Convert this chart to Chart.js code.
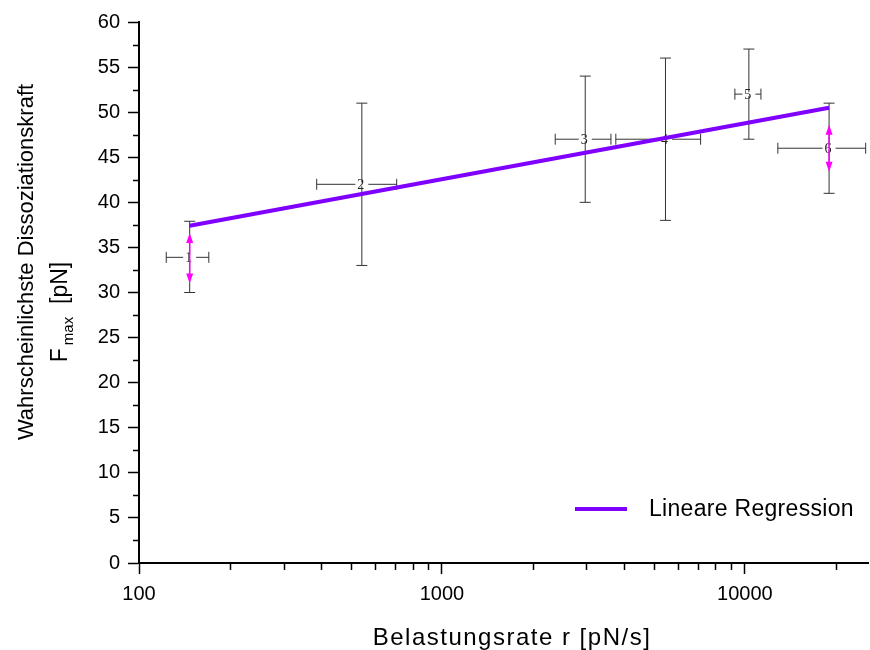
<!DOCTYPE html>
<html>
<head>
<meta charset="utf-8">
<script src="https://cdn.jsdelivr.net/npm/chart.js@4/dist/chart.umd.min.js"></script>
<style>
  html, body { margin: 0; padding: 0; background: #fff; }
  canvas { display: block; }
</style>
</head>
<body>
<canvas id="kraftChart" width="870" height="650"></canvas>
<script>
// Messpunkte (Nummer, Belastungsrate mit Fehlerbereich, Kraft mit Fehlerbereich)
const punktNamen = ['1', '2', '3', '4', '5', '6'];
const rate = [147, 544, 2972, 5470, 10310, 18970];
const rateMin = [123, 386, 2366, 3750, 9270, 12850];
const rateMax = [170, 709, 3614, 7144, 11300, 25050];
const kraft = [33.9, 42.0, 47.0, 47.0, 52.0, 46.0];
const kraftMin = [30.0, 33.0, 40.0, 38.0, 47.0, 41.0];
const kraftMax = [37.9, 51.0, 54.0, 56.0, 57.0, 51.0];

// Lineare Regression F = a + b*log(r), Endpunkte
const fitRate = [147, 18970];
const fitKraft = [37.4, 50.5];

// Doppelpfeile (magenta) bei Punkt 1 und 6
const pfeilRate = [147, 18970];
const pfeilUnten = [31.0, 43.4];
const pfeilOben = [36.6, 48.6];

// Achsenbeschriftung
const xHauptTicks = [100, 1000, 10000];
const xNebenTicks = [200, 300, 400, 500, 600, 700, 800, 900,
                     2000, 3000, 4000, 5000, 6000, 7000, 8000, 9000, 20000];
const yNebenTicks = [2.5, 7.5, 12.5, 17.5, 22.5, 27.5, 32.5, 37.5, 42.5, 47.5, 52.5, 57.5];

const LILA = '#8000ff';
const MAGENTA = '#ff00ff';
const SANS = '"Liberation Sans", Arial, sans-serif';

// Fehlerbalken, Punktnummern, Pfeile
const fehlerPlugin = {
    id: 'fehlerBalken',
    beforeDatasetsDraw(chart) {
        const ctx = chart.ctx;
        const xs = chart.scales.x, ys = chart.scales.y;
        const cap = 5.5;
        ctx.save();
        ctx.strokeStyle = '#333';
        ctx.lineWidth = 1;
        for (let i = 0; i < rate.length; i++) {
            const px = xs.getPixelForValue(rate[i]);
            const py = ys.getPixelForValue(kraft[i]);
            const x0 = xs.getPixelForValue(rateMin[i]);
            const x1 = xs.getPixelForValue(rateMax[i]);
            const y0 = ys.getPixelForValue(kraftMin[i]);
            const y1 = ys.getPixelForValue(kraftMax[i]);
            ctx.beginPath();
            // vertikal
            ctx.moveTo(px, y0); ctx.lineTo(px, y1);
            ctx.moveTo(px - cap, y0); ctx.lineTo(px + cap, y0);
            ctx.moveTo(px - cap, y1); ctx.lineTo(px + cap, y1);
            // horizontal
            ctx.moveTo(x0, py); ctx.lineTo(x1, py);
            ctx.moveTo(x0, py - cap); ctx.lineTo(x0, py + cap);
            ctx.moveTo(x1, py - cap); ctx.lineTo(x1, py + cap);
            ctx.stroke();
        }
        // Nummern mit weissem Hintergrund
        ctx.font = '14px "Liberation Serif", "Times New Roman", serif';
        ctx.textAlign = 'center';
        ctx.textBaseline = 'middle';
        for (let i = 0; i < rate.length; i++) {
            const px = xs.getPixelForValue(rate[i]);
            const py = ys.getPixelForValue(kraft[i]);
            const w = ctx.measureText(punktNamen[i]).width + 6;
            ctx.fillStyle = '#fff';
            ctx.fillRect(px - w / 2, py - 2, w, 4);
            ctx.fillStyle = '#222';
            ctx.fillText(punktNamen[i], px - 1, py + 1);
        }
        // Doppelpfeile
        ctx.strokeStyle = MAGENTA;
        ctx.fillStyle = MAGENTA;
        ctx.lineWidth = 1.5;
        for (let i = 0; i < pfeilRate.length; i++) {
            const px = xs.getPixelForValue(pfeilRate[i]);
            const yo = ys.getPixelForValue(pfeilOben[i]);
            const yu = ys.getPixelForValue(pfeilUnten[i]);
            ctx.beginPath();
            ctx.moveTo(px, yo + 6); ctx.lineTo(px, yu - 6);
            ctx.stroke();
            ctx.beginPath();
            ctx.moveTo(px, yo); ctx.lineTo(px - 3.5, yo + 10); ctx.lineTo(px + 3.5, yo + 10);
            ctx.closePath();
            ctx.moveTo(px, yu); ctx.lineTo(px - 3.5, yu - 10); ctx.lineTo(px + 3.5, yu - 10);
            ctx.closePath();
            ctx.fill();
        }
        ctx.restore();
    },
    afterDraw(chart) {
        const ctx = chart.ctx;
        const xs = chart.scales.x, ys = chart.scales.y;
        const area = chart.chartArea;
        ctx.save();
        // Nebenstriche
        ctx.strokeStyle = '#000';
        ctx.lineWidth = 1.5;
        ctx.beginPath();
        xNebenTicks.forEach(v => {
            const px = Math.round(xs.getPixelForValue(v)) + 0.5;
            ctx.moveTo(px, area.bottom); ctx.lineTo(px, area.bottom + 7);
        });
        yNebenTicks.forEach(v => {
            const py = Math.round(ys.getPixelForValue(v)) + 0.5;
            ctx.moveTo(area.left, py); ctx.lineTo(area.left - 6, py);
        });
        ctx.stroke();

        // Achsentitel
        ctx.fillStyle = '#000';
        ctx.font = '24px ' + SANS;
        ctx.letterSpacing = '1.5px';
        ctx.textAlign = 'center';
        ctx.textBaseline = 'alphabetic';
        ctx.fillText('Belastungsrate r [pN/s]', 512, 645);
        ctx.letterSpacing = '0px';

        ctx.font = '22px ' + SANS;
        ctx.save();
        ctx.translate(33, 262);
        ctx.rotate(-Math.PI / 2);
        ctx.fillText('Wahrscheinlichste Dissoziationskraft', 0, 0);
        ctx.restore();

        ctx.save();
        ctx.translate(67, 312);
        ctx.rotate(-Math.PI / 2);
        ctx.textAlign = 'left';
        const fontGross = '23px ' + SANS, fontKlein = '15px ' + SANS;
        ctx.font = fontGross;
        const wF = ctx.measureText('F').width + 3;
        const wRest = ctx.measureText('  [pN]').width;
        ctx.font = fontKlein;
        const wSub = ctx.measureText('max').width;
        let x = -(wF + wSub + wRest) / 2;
        ctx.font = fontGross;
        ctx.fillText('F', x, 0);
        x += wF;
        ctx.font = fontKlein;
        ctx.fillText('max', x, 6);
        x += wSub;
        ctx.font = fontGross;
        ctx.fillText('  [pN]', x, 0);
        ctx.restore();

        // Legende
        ctx.strokeStyle = LILA;
        ctx.lineWidth = 4;
        ctx.beginPath();
        ctx.moveTo(575, 509); ctx.lineTo(627, 509);
        ctx.stroke();
        ctx.font = '23px ' + SANS;
        ctx.letterSpacing = '0.3px';
        ctx.textAlign = 'left';
        ctx.textBaseline = 'middle';
        ctx.fillText(chart.data.datasets[1].label, 649, 510);
        ctx.letterSpacing = '0px';
        ctx.restore();
    }
};

const ctx = document.getElementById('kraftChart').getContext('2d');
const kraftChart = new Chart(ctx, {
    type: 'scatter',
    data: {
        datasets: [{
            label: 'Messwerte',
            data: rate.map((r, i) => ({ x: r, y: kraft[i] })),
            pointRadius: 0,
            showLine: false
        }, {
            label: 'Lineare Regression',
            data: fitRate.map((r, i) => ({ x: r, y: fitKraft[i] })),
            showLine: true,
            borderColor: LILA,
            borderWidth: 4,
            pointRadius: 0,
            fill: false
        }]
    },
    options: {
        responsive: false,
        animation: false,
        layout: { padding: { top: 22, right: 2, left: 0, bottom: 0 } },
        plugins: {
            legend: { display: false },
            tooltip: { enabled: false }
        },
        scales: {
            x: {
                type: 'logarithmic',
                min: 100,
                max: 25500,
                afterBuildTicks: s => { s.ticks = xHauptTicks.map(v => ({ value: v, major: true })); },
                afterFit: s => { s.height = 87; },
                ticks: {
                    color: '#000',
                    font: { family: SANS, size: 20 },
                    padding: 8,
                    maxRotation: 0,
                    autoSkip: false,
                    callback: v => String(v)
                },
                grid: { display: true, drawOnChartArea: false, tickLength: 11, tickWidth: 1.5, tickColor: '#000' },
                border: { display: true, color: '#000', width: 2 }
            },
            y: {
                min: 0,
                max: 60,
                afterFit: s => { s.width = 139; },
                ticks: {
                    stepSize: 5,
                    color: '#000',
                    font: { family: SANS, size: 20 },
                    padding: 8
                },
                grid: { display: true, drawOnChartArea: false, tickLength: 11, tickWidth: 1.5, tickColor: '#000' },
                border: { display: true, color: '#000', width: 2 }
            }
        }
    },
    plugins: [fehlerPlugin]
});
</script>
</body>
</html>
